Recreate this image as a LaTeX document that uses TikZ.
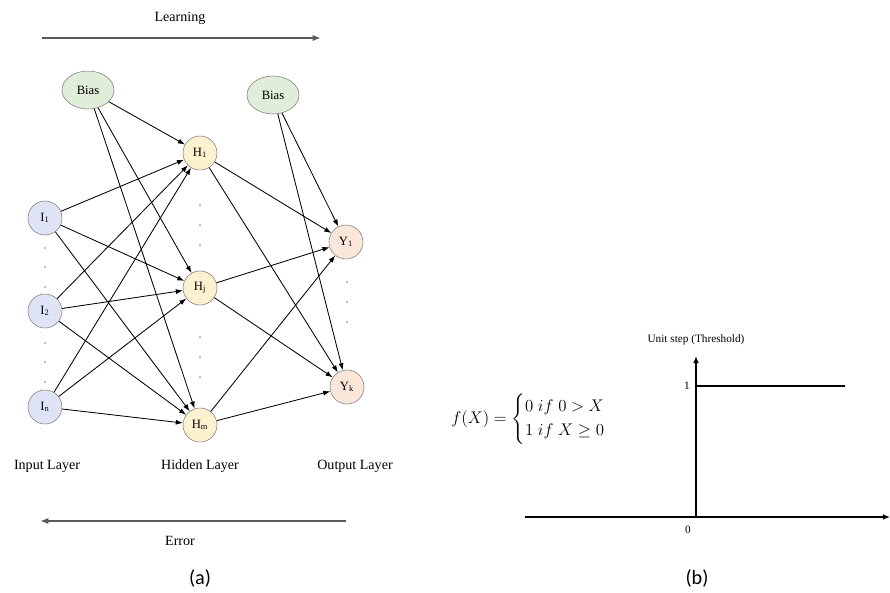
\documentclass[tikz,border=0pt]{standalone}
\usepackage{amsmath}
\usepackage{amssymb}
\usepackage{fontspec}
\setmainfont{Liberation Serif}
\newfontfamily\capfont{Carlito}
\usetikzlibrary{arrows.meta,positioning,shapes}
\definecolor{biasfill}{RGB}{224,237,216}
\definecolor{infill}{RGB}{222,228,246}
\definecolor{hidfill}{RGB}{253,242,208}
\definecolor{outfill}{RGB}{251,231,217}
\definecolor{flowgray}{RGB}{90,90,90}

\begin{document}
\begin{tikzpicture}[x=0.025cm,y=-0.025cm]
	\tikzstyle{neuron}
	  =[draw=gray, circle, minimum size=0.85cm, inner sep=0pt, font=\small]
	\tikzstyle{bias}
	  =[draw=gray, ellipse, fill=biasfill, minimum width=1.3cm,
	  minimum height=0.95cm, inner sep=0pt, font=\small]
	\tikzstyle{conn}=[-{Latex[length=5pt,width=3.6pt]}, line width=0.6pt]
	\tikzstyle{flow}=[-{Latex[length=6pt,width=4.5pt]}, line width=1.3pt, draw=flowgray]
	\tikzstyle{axis}=[-{Latex[length=5pt,width=4pt]}, line width=0.9pt]

	\useasboundingbox (0,0) rectangle (890,593);

	% (a) network
	\node[] (learn) at (180,18) {Learning};
	\coordinate (lstart) at (42,38);
	\coordinate (lend) at (321,38);

	\node[bias] (B1) at (88,90) {Bias};
	\node[bias] (B2) at (273,95) {Bias};

	\node[neuron, fill=infill] (I1) at (45,218) {I\textsubscript{1}};
	\node[neuron, fill=infill] (I2) at (45,311) {I\textsubscript{2}};
	\node[neuron, fill=infill] (In) at (45,407) {I\textsubscript{n}};

	\node[neuron, fill=hidfill] (H1) at (200,153) {H\textsubscript{1}};
	\node[neuron, fill=hidfill] (Hj) at (200,288) {H\textsubscript{j}};
	\node[neuron, fill=hidfill] (Hm) at (200,425) {H\textsubscript{m}};

	\node[neuron, fill=outfill] (Y1) at (346,242) {Y\textsubscript{1}};
	\node[neuron, fill=outfill] (Yk) at (347,387) {Y\textsubscript{k}};

	\foreach \y in {248,267,287,343,362,382}
	  \fill[gray] (45,\y) circle (0.8);
	\foreach \y in {205,225,245,337,357,377}
	  \fill[gray] (200,\y) circle (0.8);
	\foreach \y in {282,302,322}
	  \fill[gray] (347,\y) circle (0.8);

	\node[] (inlab) at (47,466) {Input Layer};
	\node[] (hidlab) at (200,466) {Hidden Layer};
	\node[] (outlab) at (355,466) {Output Layer};

	\coordinate (estart) at (346,521);
	\coordinate (eend) at (40,521);
	\node[] (err) at (180,541) {Error};
	\node[font=\capfont\Large] (capa) at (200,578) {(a)};

	\draw[flow] (lstart)--(lend);
	\draw[flow] (estart)--(eend);

	\foreach \h in {H1,Hj,Hm}
	  \draw[conn] (B1)--(\h);
	\foreach \i in {I1,I2,In}
	  \foreach \h in {H1,Hj,Hm}
	    \draw[conn] (\i)--(\h);
	\foreach \h in {H1,Hj,Hm}
	  \foreach \o in {Y1,Yk}
	    \draw[conn] (\h)--(\o);
	\foreach \o in {Y1,Yk}
	  \draw[conn] (B2)--(\o);

	% (b) unit step
	\coordinate (orig) at (696,517);
	\coordinate (xleft) at (525,517);
	\coordinate (xright) at (890,517);
	\coordinate (ytop) at (696,356);
	\coordinate (stepa) at (696,386);
	\coordinate (stepb) at (845,386);

	\node[font=\footnotesize] (ylab) at (696,340) {Unit step (Threshold)};
	\node[font=\footnotesize] (one) at (687,386) {1};
	\node[font=\footnotesize] (zero) at (688,530) {0};
	\node[font=\large] (eqn) at (537,419)
	  {$f(X)=\begin{cases}0\;if\;0>X\\1\;if\;X\geq 0\end{cases}$};
	\node[font=\capfont\Large] (capb) at (697,578) {(b)};

	\draw[axis] (xleft)--(xright);
	\draw[axis] (orig)--(ytop);
	\draw[line width=0.9pt] (stepa)--(stepb);
\end{tikzpicture}
\end{document}
